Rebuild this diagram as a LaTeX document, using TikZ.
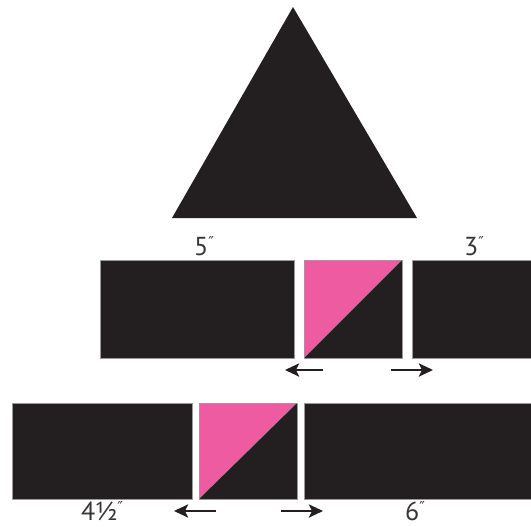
\documentclass[tikz,border=0pt]{standalone}
\usepackage{fontspec}
\setmainfont{PT Sans}
\newfontfamily\primefont{DejaVu Sans}
\usetikzlibrary{arrows.meta}
\definecolor{ink}{HTML}{231F20}
\definecolor{rim}{HTML}{9A9A9A}
\definecolor{quiltpink}{HTML}{EE5BA0}
\tikzset{
  block/.style={fill=ink, draw=rim, line width=0.8pt},
  lbl/.style={font=\fontsize{26}{28}\selectfont, text=ink!90, inner sep=0pt, text depth=0pt, anchor=base},
  press/.style={draw=ink, line width=2.6pt, -{Stealth[length=14pt,width=13pt,inset=3pt]}}
}
\newcommand{\inch}{{\primefont\raisebox{0.3em}{\fontsize{15}{15}\selectfont″}}}
\begin{document}
\begin{tikzpicture}[x=1pt,y=-1pt]
\useasboundingbox (0,0) rectangle (531,527);
% triangle
\fill[ink] (293,7) -- (417,218) -- (172,218) -- cycle;
% row 1
\draw[block] (100,260) rectangle (294,358);
\fill[ink] (304,260) rectangle (402,358);
\fill[quiltpink] (304,260) -- (402,260) -- (304,358) -- cycle;
\draw[rim, line width=0.8pt] (304,260) rectangle (402,358);
\draw[block] (412,260) rectangle (531.5,358);
\node[lbl] (five) at (204,255) {5\inch};
\node[lbl] (three) at (474,255) {3\inch};
\coordinate (a1s) at (323,370);
\coordinate (a1e) at (285,370);
\coordinate (a2s) at (391,370);
\coordinate (a2e) at (433,370);
\draw[press] (a1s) -- (a1e);
\draw[press] (a2s) -- (a2e);
% row 2
\draw[block] (12,403) rectangle (192,499);
\fill[ink] (199,403) rectangle (297,499);
\fill[quiltpink] (199,403) -- (297,403) -- (199,499) -- cycle;
\draw[rim, line width=0.8pt] (199,403) rectangle (297,499);
\draw[block] (304,403) rectangle (531.5,499);
\node[lbl] (fourhalf) at (102,520) {4½\inch};
\node[lbl] (six) at (415,520) {6\inch};
\coordinate (b1s) at (216,511);
\coordinate (b1e) at (174,511);
\coordinate (b2s) at (281,511);
\coordinate (b2e) at (323,511);
\draw[press] (b1s) -- (b1e);
\draw[press] (b2s) -- (b2e);
\end{tikzpicture}
\end{document}
